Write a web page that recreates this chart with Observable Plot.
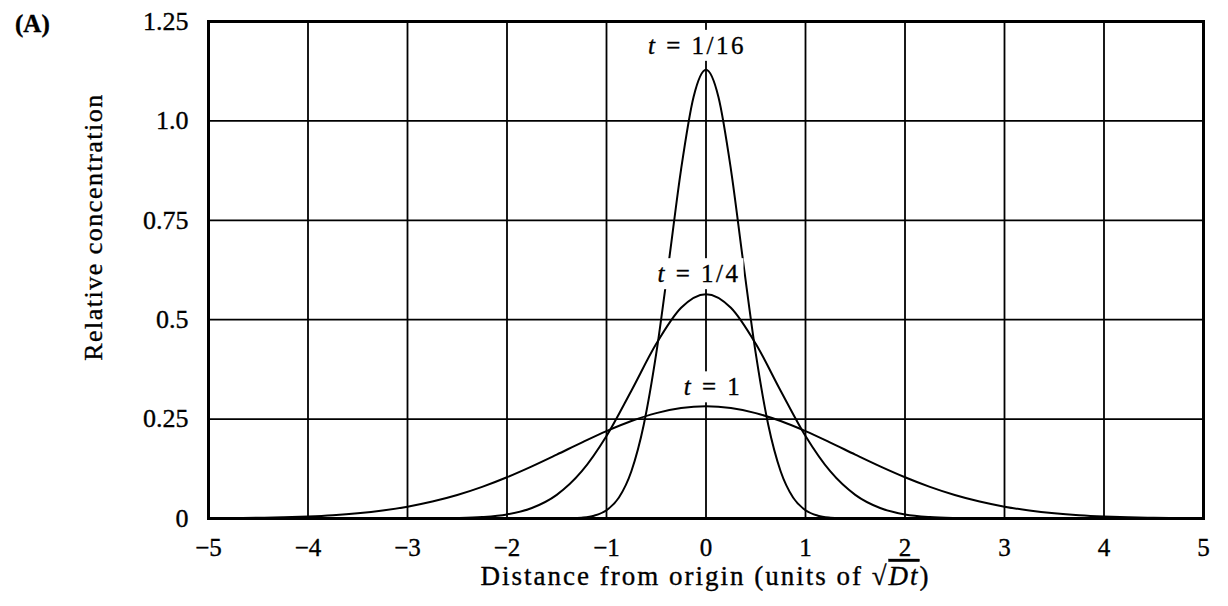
<!DOCTYPE html>
<html>
<head>
<meta charset="utf-8">
<script src="https://cdn.jsdelivr.net/npm/d3@7"></script>
<script src="https://cdn.jsdelivr.net/npm/@observablehq/plot@0.6"></script>
<style>
  html, body { margin: 0; padding: 0; background: #fff; }
  #chart svg { display: block; }
  #chart svg text { stroke: black; stroke-width: 0.35px; }
</style>
</head>
<body>
<div id="chart"></div>
<script>
// Axis ticks
const xTicks = [-5, -4, -3, -2, -1, 0, 1, 2, 3, 4, 5];
const yTicks = [0, 0.25, 0.5, 0.75, 1, 1.25];
const yTickLabels = ["0", "0.25", "0.5", "0.75", "1.0", "1.25"];

// Concentration profile at t = 1
const xT1 = [-5, -4.75, -4.5, -4.25, -4, -3.75, -3.5, -3.25, -3, -2.75, -2.5, -2.25, -2, -1.75, -1.5, -1.25, -1, -0.75, -0.5, -0.25,
  0, 0.25, 0.5, 0.75, 1, 1.25, 1.5, 1.75, 2, 2.25, 2.5, 2.75, 3, 3.25, 3.5, 3.75, 4, 4.25, 4.5, 4.75, 5];
const cT1 = [0.0005, 0.0010, 0.0018, 0.0031, 0.0052, 0.0084, 0.0132, 0.0201, 0.0297, 0.0426, 0.0591, 0.0796, 0.1038, 0.1312, 0.1607, 0.1909, 0.2197, 0.2451, 0.2650, 0.2777,
  0.2821, 0.2777, 0.2650, 0.2451, 0.2197, 0.1909, 0.1607, 0.1312, 0.1038, 0.0796, 0.0591, 0.0426, 0.0297, 0.0201, 0.0132, 0.0084, 0.0052, 0.0031, 0.0018, 0.0010, 0.0005];

// Concentration profile at t = 1/4
const xT4 = [-3, -2.75, -2.5, -2.25, -2, -1.75, -1.5, -1.25, -1, -0.75, -0.5, -0.25,
  0, 0.25, 0.5, 0.75, 1, 1.25, 1.5, 1.75, 2, 2.25, 2.5, 2.75, 3];
const cT4 = [0.0001, 0.0003, 0.0011, 0.0036, 0.0103, 0.0264, 0.0595, 0.1183, 0.2076, 0.3215, 0.4394, 0.5300,
  0.5642, 0.5300, 0.4394, 0.3215, 0.2076, 0.1183, 0.0595, 0.0264, 0.0103, 0.0036, 0.0011, 0.0003, 0.0001];

// Concentration profile at t = 1/16
const xT16 = [-1.5, -1.375, -1.25, -1.125, -1, -0.875, -0.75, -0.625, -0.5, -0.375, -0.25, -0.125,
  0, 0.125, 0.25, 0.375, 0.5, 0.625, 0.75, 0.875, 1, 1.125, 1.25, 1.375, 1.5];
const cT16 = [0.0001, 0.0006, 0.0022, 0.0071, 0.0207, 0.0528, 0.1189, 0.2365, 0.4151, 0.6429, 0.8788, 1.0600,
  1.1284, 1.0600, 0.8788, 0.6429, 0.4151, 0.2365, 0.1189, 0.0528, 0.0207, 0.0071, 0.0022, 0.0006, 0.0001];

const seriesNames = ["1/16", "1/4", "1"];
const seriesX = [xT16, xT4, xT1];
const seriesC = [cT16, cT4, cT1];

// Long-format table for the line mark
const rows = seriesNames.flatMap((t, k) => seriesX[k].map((x, i) => ({t, x, c: seriesC[k][i]})));

// One label per curve, placed at its peak
const peaks = seriesNames.map((t, k) => {
  const i = d3.maxIndex(seriesC[k]);
  return {t, x: seriesX[k][i], c: seriesC[k][i], label: `t = ${t}`};
});
const labelShift = {"1/16": [-9, -16], "1/4": [-7, -12], "1": [7, -11]};

const serif = '"Liberation Serif", "Times New Roman", serif';

const plot = Plot.plot({
  width: 1228,
  height: 606,
  marginLeft: 208,
  marginRight: 25,
  marginTop: 21,
  marginBottom: 88,
  x: {domain: [-5, 5]},
  y: {domain: [0, 1.25]},
  style: {fontFamily: serif, background: "white", color: "black"},
  marks: [
    Plot.gridX(xTicks, {stroke: "black", strokeOpacity: 1, strokeWidth: 1.8}),
    Plot.gridY(yTicks, {stroke: "black", strokeOpacity: 1, strokeWidth: 1.8}),
    Plot.line(rows, {x: "x", y: "c", z: "t", stroke: "black", strokeWidth: 2, curve: "monotone-x"}),
    ...peaks.map(p => Plot.text([p], {
      x: "x", y: "c", text: "label",
      textAnchor: "middle", lineAnchor: "bottom",
      dx: labelShift[p.t][0], dy: labelShift[p.t][1],
      fontSize: 25, fill: "black"
    })),
    Plot.frame({stroke: "black", strokeWidth: 3}),
    Plot.axisX(xTicks, {tickSize: 0, tickPadding: 20, fontSize: 25, label: null}),
    Plot.axisY(yTicks, {tickSize: 0, tickPadding: 20, fontSize: 26, label: null,
      tickFormat: d => yTickLabels[yTicks.indexOf(d)]})
  ]
});

document.getElementById("chart").appendChild(plot);

const svg = d3.select(plot);
const xs = plot.scale("x");

// Curve labels: italic time symbol, set on a white box that breaks the grid and curves
svg.selectAll("text").filter(function () { return /^t = /.test(this.textContent); }).each(function () {
  const s = this.textContent;
  this.textContent = "";
  const t = d3.select(this).attr("letter-spacing", "2.5px");
  t.append("tspan").attr("font-style", "italic").text(s.slice(0, 1));
  t.append("tspan").text(s.slice(1));
  const b = this.getBBox();
  const padX = 3, padY = 4;
  d3.select(this.parentNode).insert("rect", () => this)
    .attr("transform", this.getAttribute("transform"))
    .attr("x", b.x - padX).attr("y", b.y - padY + 2)
    .attr("width", b.width + 2 * padX).attr("height", b.height + 2 * padY - 4)
    .attr("fill", "white").attr("stroke", "none");
});

// Panel letter
svg.append("text")
  .attr("x", 15).attr("y", 32)
  .attr("text-anchor", "start")
  .attr("font-family", serif).attr("font-size", 25).attr("font-weight", "bold")
  .text("(A)");

// Y axis title
svg.append("text")
  .attr("transform", "translate(102,227) rotate(-90)")
  .attr("text-anchor", "middle")
  .attr("font-family", serif).attr("font-size", 26).attr("letter-spacing", "1.5px")
  .text("Relative concentration");

// X axis title with the √(Dt) unit
const xt = svg.append("text")
  .attr("x", xs.apply(0)).attr("y", 585)
  .attr("text-anchor", "middle")
  .attr("font-family", serif).attr("font-size", 27).attr("letter-spacing", "2px");
xt.append("tspan").text("Distance from origin (units of √");
xt.append("tspan").attr("font-style", "italic").style("text-decoration", "overline").text("Dt");
xt.append("tspan").text(")");
</script>
</body>
</html>
